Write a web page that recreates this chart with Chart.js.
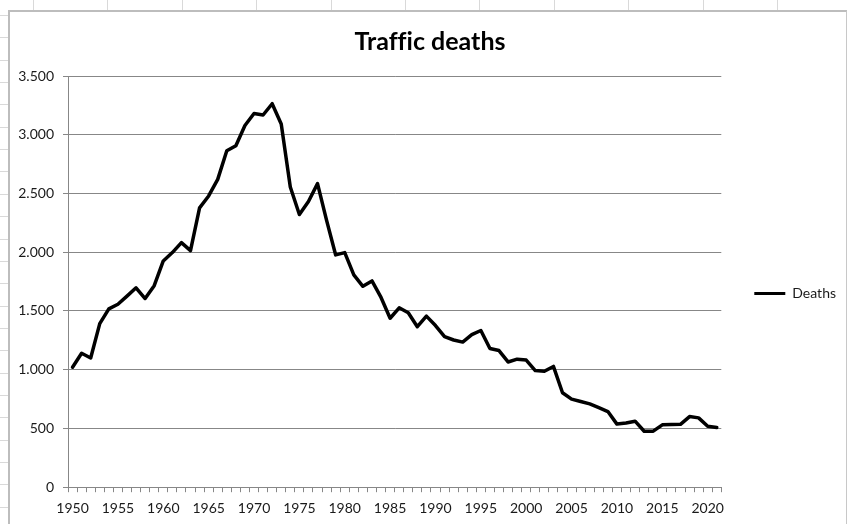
<!DOCTYPE html>
<html>
<head>
<meta charset="utf-8">
<script src="https://cdn.jsdelivr.net/npm/chart.js@4"></script>
<style>
  html, body { margin: 0; padding: 0; background: #fff; }
  body { width: 847px; height: 524px; position: relative; overflow: hidden; }
  /* sheet cell lines around the embedded chart */
  .cols {
    position: absolute; left: 0; top: 0; width: 847px; height: 10px;
    background: repeating-linear-gradient(to right, transparent 0, transparent 33px, #d9d9d9 33px, #d9d9d9 34px, transparent 34px, transparent 74.4px);
  }
  .rows {
    position: absolute; left: 0; top: 0; width: 8px; height: 524px;
    background: repeating-linear-gradient(to bottom, transparent 0, transparent 15px, #d9d9d9 15px, #d9d9d9 16px, transparent 16px, transparent 22.35px);
  }
  .frame {
    position: absolute; left: 8px; top: 10px; width: 836px; height: 530px;
    background: #fff; border-left: 2px solid #bdbdbd; border-top: 2px solid #bdbdbd; border-right: 1px solid #c8c8c8;
  }
  #wrap { position: absolute; left: 0; top: 0; width: 847px; height: 524px; }
</style>
</head>
<body>
<div class="cols"></div>
<div class="rows"></div>
<div class="frame"></div>
<div id="wrap"><canvas id="deathsChart"></canvas></div>
<script>
// Yearly road traffic deaths
const years = [];
for (let y = 1950; y <= 2021; y++) years.push(String(y));

const deaths = [
  1021, 1140, 1100, 1392, 1518, 1557, 1626, 1697, 1606, 1715,
  1926, 1997, 2082, 2014, 2378, 2479, 2620, 2864, 2907, 3079,
  3181, 3168, 3264, 3092, 2555, 2321, 2432, 2584, 2271, 1977,
  1997, 1807, 1710, 1756, 1615, 1438, 1527, 1485, 1366, 1456,
  1376, 1281, 1253, 1235, 1298, 1334, 1180, 1163, 1066, 1090,
  1082, 993, 987, 1028, 804, 750, 730, 709, 677, 644,
  537, 546, 562, 476, 477, 531, 533, 535, 601, 590,
  518, 508
];

const yTicks = [0, 500, 1000, 1500, 2000, 2500, 3000, 3500];

const fontFamily = 'Lato, "Open Sans", sans-serif';
const textColor = '#1a1a1a';
const gridColor = '#878787';

document.addEventListener('DOMContentLoaded', function() {
  const ctx = document.getElementById('deathsChart').getContext('2d');

  const chart = new Chart(ctx, {
    type: 'line',
    data: {
      labels: years,
      datasets: [{
        label: 'Deaths',
        data: deaths,
        borderColor: '#000',
        backgroundColor: '#000',
        borderWidth: 3.5,
        borderJoinStyle: 'round',
        borderCapStyle: 'round',
        pointRadius: 0,
        tension: 0,
        fill: false
      }]
    },
    options: {
      responsive: true,
      maintainAspectRatio: false,
      animation: false,
      layout: {
        padding: { left: 14, right: 1, top: 0, bottom: -1 }
      },
      plugins: {
        title: {
          display: true,
          // ZWNJ keeps the two f's from turning into a ligature
          text: 'Traf\u200Cf\u200Cic deaths',
          color: '#000',
          font: { family: fontFamily, size: 25, weight: 'bold' },
          padding: { top: 27, bottom: 19 }
        },
        legend: {
          position: 'right',
          // empty title only pushes the entry down
          title: {
            display: true,
            text: '',
            font: { family: fontFamily, size: 10 },
            padding: { top: 0, bottom: 50 }
          },
          labels: {
            color: textColor,
            font: { family: fontFamily, size: 14 },
            boxWidth: 31,
            boxHeight: 3,
            padding: 33,
            generateLabels: function(c) {
              return Chart.defaults.plugins.legend.labels.generateLabels(c).map(function(item) {
                item.fillStyle = '#000';
                item.lineWidth = 0;
                return item;
              });
            }
          }
        },
        tooltip: { enabled: false }
      },
      scales: {
        x: {
          offset: true,
          grid: {
            offset: true,
            drawOnChartArea: false,
            drawTicks: true,
            tickLength: 5,
            color: gridColor
          },
          border: { color: gridColor, width: 1 },
          ticks: {
            autoSkip: false,
            maxRotation: 0,
            padding: 8,
            color: textColor,
            font: { family: fontFamily, size: 14 },
            callback: function(value) {
              const year = years[value];
              return Number(year) % 5 === 0 ? year : '';
            }
          }
        },
        y: {
          min: 0,
          max: 3500,
          afterFit: function(scale) { scale.width = 54; },
          afterBuildTicks: function(scale) {
            scale.ticks = yTicks.map(v => ({ value: v }));
          },
          grid: {
            color: gridColor,
            drawTicks: true,
            tickLength: 5
          },
          border: { color: gridColor, width: 1 },
          ticks: {
            padding: 9,
            color: textColor,
            font: { family: fontFamily, size: 14 },
            callback: function(value) {
              return value.toLocaleString('de-DE');
            }
          }
        }
      }
    }
  });
});
</script>
</body>
</html>
